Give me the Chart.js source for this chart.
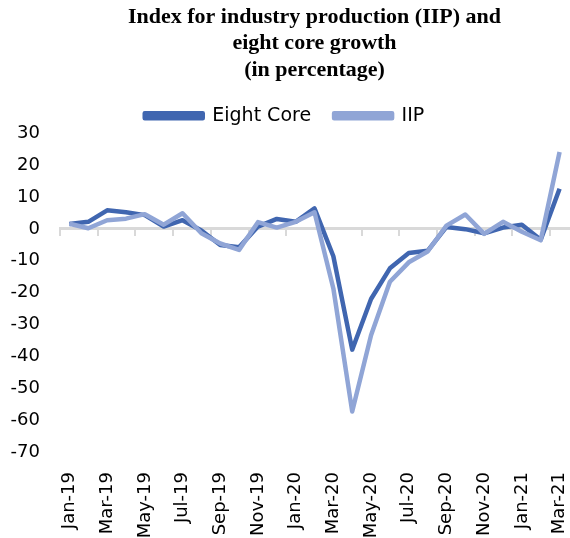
<!DOCTYPE html>
<html>
<head>
<meta charset="utf-8">
<script src="https://cdn.jsdelivr.net/npm/chart.js@4"></script>
<style>
  body { margin: 0; background: #fff; }
</style>
</head>
<body>
<canvas id="iipChart" width="570" height="538"></canvas>
<script>
const months = ['Jan-19','Feb-19','Mar-19','Apr-19','May-19','Jun-19','Jul-19','Aug-19','Sep-19','Oct-19','Nov-19','Dec-19',
    'Jan-20','Feb-20','Mar-20','Apr-20','May-20','Jun-20','Jul-20','Aug-20','Sep-20','Oct-20','Nov-20','Dec-20',
    'Jan-21','Feb-21','Mar-21'];
const eightCore = [1.5, 2.2, 5.8, 5.2, 4.3, 0.7, 2.7, -0.5, -5.1, -5.8, 0.7, 3.1,
    2.2, 6.4, -8.6, -37.9, -22.0, -12.4, -7.6, -6.9, 0.6, -0.1, -1.4, 0.4,
    1.3, -3.4, 12.6];
const iip = [1.6, 0.2, 2.7, 3.2, 4.6, 1.3, 4.9, -1.4, -4.6, -6.6, 2.1, 0.4,
    2.2, 5.2, -18.7, -57.3, -33.4, -16.6, -10.5, -7.1, 1.0, 4.5, -1.6, 2.2,
    -0.9, -3.6, 24.1];
const yTicks = [-70, -60, -50, -40, -30, -20, -10, 0, 10, 20, 30];

const darkBlue = '#4066b0';
const lightBlue = '#90a5d6';
const labelFont = 'Verdana, "DejaVu Sans", sans-serif';

const ctx = document.getElementById('iipChart').getContext('2d');
const myLineChart = new Chart(ctx, {
    type: 'line',
    data: {
        labels: months,
        datasets: [{
            label: 'Eight Core',
            data: eightCore,
            borderColor: darkBlue,
            backgroundColor: darkBlue,
            borderWidth: 4.5,
            pointRadius: 0,
            tension: 0,
            borderJoinStyle: 'round',
            order: 1
        }, {
            label: 'IIP',
            data: iip,
            borderColor: lightBlue,
            backgroundColor: lightBlue,
            borderWidth: 4.5,
            pointRadius: 0,
            tension: 0,
            borderJoinStyle: 'round',
            order: 0
        }]
    },
    options: {
        responsive: false,
        animation: false,
        layout: { padding: { left: 0, right: 1, top: 4, bottom: 0 } },
        plugins: {
            title: {
                display: true,
                fullSize: false,
                text: ['Index for industry production (IIP) and', 'eight core growth', '(in percentage)'],
                color: '#000',
                font: { family: '"Liberation Serif", "Times New Roman", serif', size: 22, weight: 'bold', lineHeight: 1.2 },
                padding: { top: 0, bottom: 0 }
            },
            legend: {
                maxHeight: 50,
                labels: {
                    boxWidth: 58,
                    boxHeight: 5,
                    color: '#000',
                    padding: 23,
                    font: { family: labelFont, size: 19 },
                    sort: (a, b) => a.datasetIndex - b.datasetIndex
                }
            },
            tooltip: { enabled: false }
        },
        scales: {
            x: {
                offset: true,
                grid: { display: false, drawTicks: false },
                border: { display: false },
                afterFit: (scale) => {
                    scale.height = 86;
                    scale.paddingLeft = 0;
                    scale.paddingRight = 1;
                },
                ticks: {
                    autoSkip: false,
                    maxRotation: 90,
                    minRotation: 90,
                    padding: 20,
                    color: '#000',
                    font: { family: labelFont, size: 18 },
                    callback: function (value, index) {
                        return index % 2 === 0 ? this.getLabelForValue(value) : '';
                    }
                }
            },
            zeroAxis: {
                type: 'category',
                axis: 'x',
                position: { y: 0 },
                offset: true,
                grid: {
                    offset: true,
                    drawOnChartArea: false,
                    tickLength: 6,
                    lineWidth: 2,
                    color: (c) => c.index % 2 === 0 ? '#d9d9d9' : 'rgba(0,0,0,0)'
                },
                border: { display: true, color: '#d9d9d9', width: 3 },
                ticks: { autoSkip: false, display: false }
            },
            y: {
                min: -70,
                max: 30,
                grid: { display: false, drawTicks: false },
                border: { display: false },
                afterFit: (scale) => { scale.width = 60; },
                afterBuildTicks: (scale) => { scale.ticks = yTicks.map(v => ({ value: v })); },
                ticks: {
                    autoSkip: false,
                    padding: 20,
                    color: '#000',
                    font: { family: labelFont, size: 18 }
                }
            }
        }
    }
});
</script>
</body>
</html>
